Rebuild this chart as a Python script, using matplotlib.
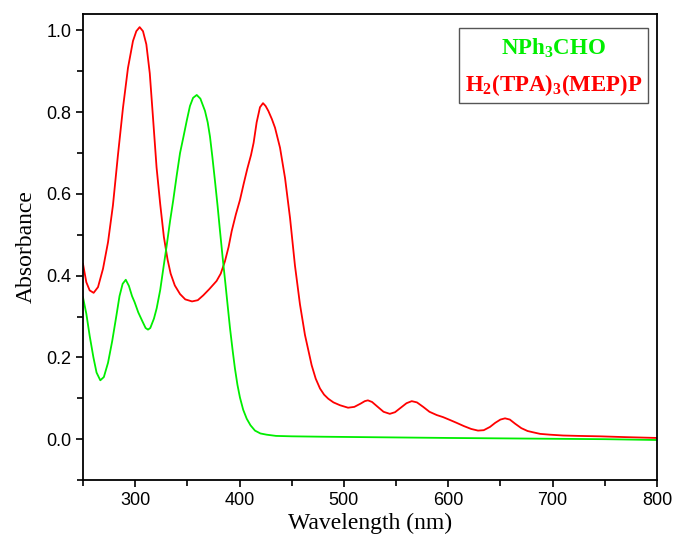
import matplotlib
matplotlib.use("Agg")
import matplotlib.pyplot as plt
from matplotlib.ticker import MultipleLocator, FormatStrFormatter
from matplotlib.patches import Rectangle

plt.rcParams['mathtext.fontset'] = 'custom'
plt.rcParams['mathtext.rm'] = 'Liberation Serif:bold'
plt.rcParams['mathtext.bf'] = 'Liberation Serif:bold'
plt.rcParams['mathtext.it'] = 'Liberation Serif:bold'
plt.rcParams['mathtext.default'] = 'rm'

# H2(TPA)3(MEP)P  (red)
red_wl = [250, 253.2, 256.4, 260.2, 264.4, 269.2, 274, 278.7, 283.5, 288.3, 293.1, 297.9, 301.1,
          304.3, 307.5, 310.7, 314, 317, 320.5, 324, 327.5, 331, 334, 338, 343, 348, 354.5, 360,
          365.3, 371, 378, 382, 386, 389.5, 392.5, 396.5, 400.4, 404, 407.5, 411, 413.5, 416.4,
          419.6, 422.5, 425, 427.6, 431, 434, 438.8, 443.6, 448.4, 453.1, 457.9, 462.7, 469.1,
          473, 477.1, 481, 485, 490, 496.3, 504, 510, 516, 520, 523, 527, 532, 538, 544, 549, 555, 560, 565,
          570, 576, 582, 589, 595, 601.6, 608, 615, 622, 628.5, 634, 640, 645, 650, 654.4, 659,
          664, 670, 676, 681, 688, 697.5, 710, 725, 745, 770, 800]
red_abs = [0.429, 0.384, 0.364, 0.358, 0.372, 0.417, 0.482, 0.572, 0.695, 0.81, 0.908, 0.974, 0.998,
           1.008, 0.998, 0.966, 0.895, 0.79, 0.665, 0.575, 0.495, 0.44, 0.405, 0.376, 0.355, 0.342, 0.337, 0.34,
           0.352, 0.367, 0.387, 0.405, 0.435, 0.47, 0.509, 0.55, 0.585, 0.625, 0.662, 0.695, 0.725, 0.775,
           0.812, 0.822, 0.815, 0.803, 0.783, 0.762, 0.713, 0.639, 0.541, 0.425, 0.33, 0.255, 0.181,
           0.148, 0.124, 0.109, 0.099, 0.09, 0.083, 0.077, 0.079, 0.087, 0.093, 0.095, 0.091, 0.08, 0.067, 0.062, 0.066, 0.078, 0.088, 0.093,
           0.09, 0.079, 0.067, 0.059, 0.054, 0.047, 0.04, 0.032, 0.025, 0.021, 0.022, 0.03, 0.04, 0.048, 0.051, 0.048,
           0.038, 0.027, 0.02, 0.017, 0.013, 0.011, 0.009, 0.008, 0.007, 0.005, 0.003]

# NPh3CHO  (green)
green_wl = [250, 253.2, 256.4, 260, 263, 266.6, 270, 274, 278, 282, 285, 288, 291, 294, 297, 299.5,
            303, 307, 310, 312.3, 314.5, 318, 320.6, 324, 327, 330, 333.4, 336.5, 339.8, 343, 346.3,
            349.5, 352.5, 355.5, 359, 362.5, 366.9, 369.5, 371.7, 374, 376.5, 379, 381.3, 384, 386.5,
            388.5, 390.9, 393.5, 395.6, 398, 400.4, 403.5, 406.9, 410.5, 414.8, 420, 426, 435, 450,
            480, 520, 560, 600, 650, 700, 750, 800]
green_abs = [0.347, 0.307, 0.253, 0.2, 0.163, 0.144, 0.152, 0.187, 0.24, 0.302, 0.35, 0.38, 0.39, 0.375, 0.35, 0.335,
             0.31, 0.288, 0.272, 0.268, 0.272, 0.295, 0.32, 0.365, 0.418, 0.47, 0.533, 0.585, 0.645, 0.7, 0.74,
             0.78, 0.815, 0.835, 0.842, 0.833, 0.803, 0.775, 0.74, 0.69, 0.631, 0.57, 0.509, 0.44, 0.38,
             0.33, 0.271, 0.215, 0.173, 0.133, 0.102, 0.072, 0.05, 0.034, 0.021, 0.014, 0.011, 0.008, 0.007,
             0.006, 0.005, 0.004, 0.003, 0.002, 0.001, 0.0, -0.002]

labels = ["NPh$_3$CHO", "H$_2$(TPA)$_3$(MEP)P"]
colors = ["#00ee00", "#ff0000"]

fig = plt.figure(figsize=(6.73, 5.40), dpi=100)
ax = fig.add_axes([0.1233, 0.111, 0.8529, 0.863])

ax.plot(red_wl, red_abs, color=colors[1], lw=1.3)
ax.plot(green_wl, green_abs, color=colors[0], lw=1.3)

ax.set_xlim(250, 800)
ax.set_ylim(-0.1, 1.04)
ax.xaxis.set_major_locator(MultipleLocator(100))
ax.xaxis.set_minor_locator(MultipleLocator(50))
ax.yaxis.set_major_locator(MultipleLocator(0.2))
ax.yaxis.set_minor_locator(MultipleLocator(0.1))
ax.yaxis.set_major_formatter(FormatStrFormatter('%.1f'))

for s in ax.spines.values():
    s.set_linewidth(1.3)
ax.tick_params(which='major', direction='out', length=5, width=1.2, labelsize=13)
ax.tick_params(which='minor', direction='out', length=4, width=1.2)
for lab in ax.get_xticklabels() + ax.get_yticklabels():
    lab.set_fontfamily('Liberation Sans')

ax.set_xlabel("Wavelength (nm)", fontfamily='Liberation Serif', fontsize=17, labelpad=3)
ax.set_ylabel("Absorbance", fontfamily='Liberation Serif', fontsize=17, labelpad=7)

# legend box with centred coloured labels
ax.add_patch(Rectangle((0.655, 0.809), 0.329, 0.161, transform=ax.transAxes,
                       facecolor='white', edgecolor='#555555', lw=1.0, zorder=5))
for lab, col, yb in zip(labels, colors, [0.913, 0.835]):
    ax.text(0.8195, yb, lab, transform=ax.transAxes, color=col, ha='center', va='baseline',
            fontfamily='Liberation Serif', fontweight='bold', fontsize=16.5, zorder=6)

fig.savefig("out.png", dpi=100)
